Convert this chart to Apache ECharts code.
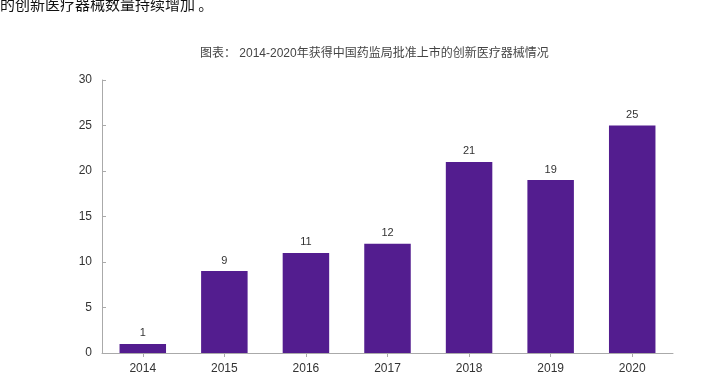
<!DOCTYPE html>
<html><head><meta charset="utf-8">
<script src="https://cdn.jsdelivr.net/npm/echarts@6/dist/echarts.min.js"></script>
<style>html,body{margin:0;padding:0;background:#fff}#c{width:722px;height:389px}</style>
</head><body><div id="c"></div>
<script>
const categories = ['2014','2015','2016','2017','2018','2019','2020'];
const values = [1, 9, 11, 12, 21, 19, 25];
const yTicks = [0, 5, 10, 15, 20, 25, 30];
const titleText = '图表： 2014-2020年获得中国药监局批准上市的创新医疗器械情况';
const topText = '的创新医疗器械数量持续增加 。';

const chart = echarts.init(document.getElementById('c'), null, {renderer: 'canvas'});
const font = '"Liberation Sans", Arial, "Noto Sans CJK SC", sans-serif';
chart.setOption({
  animation: false,
  textStyle: {fontFamily: font},
  graphic: [
    {type: 'text', left: 0, top: -3, style: {text: topText, font: '15px "Noto Sans CJK SC", sans-serif', fill: '#111'}},
    {type: 'text', left: 200, top: 48, style: {text: titleText, font: '12px "Liberation Sans", "Noto Sans CJK SC", sans-serif', fill: '#444'}}
  ],
  grid: {left: 102, right: 49, top: 80, bottom: 36, containLabel: false},
  xAxis: {
    type: 'category', data: categories,
    axisLine: {lineStyle: {color: '#aaa', width: 1}},
    axisTick: {show: true, alignWithLabel: true, length: 4, lineStyle: {color: '#aaa'}},
    axisLabel: {color: '#333', fontSize: 12, margin: 10, fontFamily: font}
  },
  yAxis: {
    type: 'value', min: yTicks[0], max: yTicks[yTicks.length-1], interval: 5,
    axisLine: {show: true, lineStyle: {color: '#aaa'}},
    axisTick: {show: true, inside: true, length: 4, lineStyle: {color: '#aaa'}},
    splitLine: {show: false},
    axisLabel: {color: '#333', fontSize: 12, margin: 10, fontFamily: font}
  },
  series: [{
    type: 'bar', data: values, barWidth: '57%',
    itemStyle: {color: '#531d8f'},
    label: {show: true, position: 'top', color: '#333', fontSize: 11, distance: 5, fontFamily: font}
  }]
});
</script></body></html>
